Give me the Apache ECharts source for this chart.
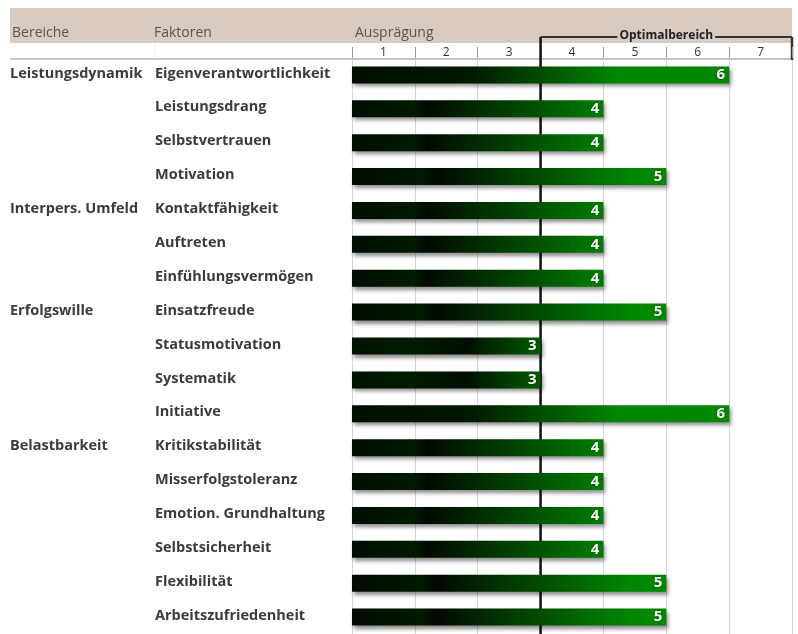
<!DOCTYPE html>
<html><head><meta charset="utf-8">
<script src="https://cdn.jsdelivr.net/npm/echarts@6/dist/echarts.min.js"></script>
<style>html,body{margin:0;padding:0;background:#fff}#c{width:798px;height:634px}</style>
</head><body><div id="c"></div>
<script>
const headers = ['Bereiche', 'Faktoren', 'Ausprägung'];
const bereiche = ['Leistungsdynamik', '', '', '', 'Interpers. Umfeld', '', '', 'Erfolgswille', '', '', '', 'Belastbarkeit', '', '', '', '', ''];
const factors = ['Eigenverantwortlichkeit', 'Leistungsdrang', 'Selbstvertrauen', 'Motivation', 'Kontaktfähigkeit', 'Auftreten', 'Einfühlungsvermögen', 'Einsatzfreude', 'Statusmotivation', 'Systematik', 'Initiative', 'Kritikstabilität', 'Misserfolgstoleranz', 'Emotion. Grundhaltung', 'Selbstsicherheit', 'Flexibilität', 'Arbeitszufriedenheit'];
const values = [6, 4, 4, 5, 4, 4, 4, 5, 3, 3, 6, 4, 4, 4, 4, 5, 5];
const ticks = ['1', '2', '3', '4', '5', '6', '7'];
const optimalLabel = 'Optimalbereich';
const optimalFrom = 3, optimalTo = 7;

const FONT = '"Open Sans"';
const gradStops = {
  3: [[0,'#001200'],[0.3,'#001c00'],[0.62,'#000e00'],[0.68,'#002000'],[1,'#005c00']],
  4: [[0,'#000e00'],[0.25,'#001a00'],[0.3,'#000a00'],[1,'#007e00']],
  5: [[0,'#000c00'],[0.22,'#001a00'],[0.27,'#000a00'],[0.88,'#008600'],[1,'#008800']],
  6: [[0,'#001000'],[0.3,'#001800'],[0.35,'#002200'],[0.7,'#008600'],[1,'#008800']]
};
function grad(v){
  const s = gradStops[v] || gradStops[4];
  return new echarts.graphic.LinearGradient(0,0,1,0, s.map(p=>({offset:p[0], color:p[1]})));
}

const chart = echarts.init(document.getElementById('c'), null, {renderer:'canvas'});
const option = {
  animation: false,
  backgroundColor: '#fff',
  textStyle: {fontFamily: FONT},
  grid: {left: 352, right: 6, top: 58, bottom: -3},
  xAxis: [{
    type: 'value', position: 'top', min: 0, max: 7, interval: 1,
    axisLine: {show: false},
    axisTick: {show: true, length: 11, lineStyle: {color: '#9a9a9a', width: 1}},
    axisLabel: {show: false},
    splitLine: {show: true, lineStyle: {color: '#d6d6d6', width: 1}}
  }, {
    type: 'category', position: 'top', data: ticks, boundaryGap: true,
    axisLine: {show: false}, axisTick: {show: false}, splitLine: {show: false},
    axisLabel: {margin: -1, color: '#333', fontSize: 12, fontFamily: FONT}
  }],
  yAxis: {
    type: 'category', inverse: true, data: factors,
    axisLine: {show: false}, axisTick: {show: false},
    axisLabel: {
      align: 'left', margin: 342, interval: 0,
      formatter: (val, i) => '{b|' + (bereiche[i] || '') + '}{f|' + val + '}',
      rich: {
        b: {width: 145, fontSize: 14.5, fontWeight: 'bold', color: '#3e3a38', fontFamily: FONT, padding: [0,0,3,0]},
        f: {fontSize: 14.5, fontWeight: 'bold', color: '#3e3a38', fontFamily: FONT, padding: [0,0,3,0]}
      }
    }
  },
  series: [{
    type: 'bar', xAxisIndex: 0, barWidth: 17,
    data: values.map(v => ({value: v, itemStyle: {color: grad(v)}})),
    itemStyle: {shadowColor: 'rgba(0,0,0,0.45)', shadowBlur: 4, shadowOffsetX: 2, shadowOffsetY: 3},
    label: {show: true, position: 'insideRight', distance: 4, formatter: '{c}', color: '#fff',
      fontWeight: 'bold', fontSize: 15, fontFamily: FONT,
      textShadowColor: 'rgba(0,0,0,0.5)', textShadowBlur: 2}
  }]
};
chart.setOption(option);

const x3 = chart.convertToPixel({xAxisIndex: 0}, optimalFrom);
const x7 = chart.convertToPixel({xAxisIndex: 0}, optimalTo);
const gTop = 58;
const hdr = (t, x) => ({type: 'text', x: x, y: 33, style: {text: t, font: '14px ' + FONT, fill: '#5a5452', verticalAlign: 'middle'}});
chart.setOption({
  graphic: [
    {type: 'rect', z: -10, shape: {x: 10, y: 8, width: 782, height: 35}, style: {fill: '#d9cbbf'}},
    hdr(headers[0], 12), hdr(headers[1], 154), hdr(headers[2], 355),
    {type: 'line', shape: {x1: 10, y1: gTop + 1, x2: x7, y2: gTop + 1}, style: {stroke: '#c4c4c4', lineWidth: 2}},
    {type: 'line', shape: {x1: 155, y1: 44, x2: 155, y2: gTop}, style: {stroke: '#eeeeee', lineWidth: 1}},
    {type: 'line', z: 1, shape: {x1: x3, y1: 37, x2: x3, y2: 634}, style: {stroke: '#111', lineWidth: 2.5}},
    {type: 'line', shape: {x1: x3, y1: 37, x2: x7, y2: 37}, style: {stroke: '#333', lineWidth: 2}},
    {type: 'line', shape: {x1: x7, y1: 37, x2: x7, y2: gTop + 2}, style: {stroke: '#333', lineWidth: 2.5}},
    {type: 'text', z: 5, x: (x3 + x7) / 2, y: 36, style: {text: optimalLabel, font: 'bold 12px ' + FONT, fill: '#222',
      align: 'center', verticalAlign: 'middle', backgroundColor: '#d9cbbf', padding: [0, 2]}}
  ]
});
</script></body></html>
